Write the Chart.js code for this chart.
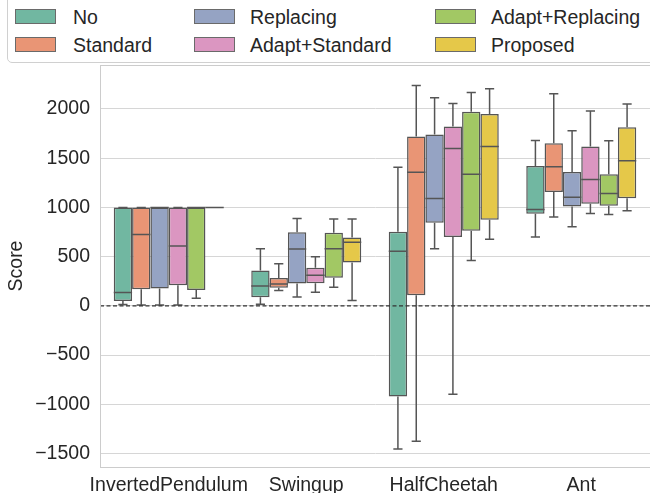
<!DOCTYPE html>
<html>
<head>
<meta charset="utf-8">
<script src="https://cdn.jsdelivr.net/npm/chart.js@4.4.1/dist/chart.umd.min.js"></script>
<style>
  html, body { margin: 0; padding: 0; background: #fff; overflow: hidden; }
  #wrap { position: relative; width: 650px; height: 493px; }
  #legend {
    position: absolute; left: 7px; top: -12px; width: 700px; height: 73px;
    border: 1px solid #d0d0d0; border-radius: 5px; background: #fff;
    font-family: "Liberation Sans", Arial, sans-serif; font-size: 19.5px; color: #262626;
  }
  .lg-item { position: absolute; left: 0; height: 24px; line-height: 24px; white-space: nowrap; }
  .lg-box { position: absolute; top: 4px; width: 39px; height: 13px; border: 1px solid #6a6a6a; }
  .lg-text { position: absolute; }
</style>
</head>
<body>
<div id="wrap">
  <canvas id="chart" width="650" height="493"></canvas>
  <div id="legend"></div>
</div>
<script>
// Box plot stats per environment: [whisker low, q1, median, q3, whisker high]
const envs = ['InvertedPendulum', 'Swingup', 'HalfCheetah', 'Ant'];
const methods = ['No', 'Standard', 'Replacing', 'Adapt+Standard', 'Adapt+Replacing', 'Proposed'];
const colors = ['#71b7a1', '#e99575', '#95a3c3', '#db96c1', '#a2c864', '#e5c849'];

const noStats          = [[15, 50, 135, 1000, 1000], [17, 88, 203, 360, 580], [-1453, -922, 556, 754, 1407], [700, 936, 980, 1421, 1680]];
const standardStats    = [[10, 169, 724, 1000, 1000], [155, 185, 223, 284, 429], [-1375, 108, 1357, 1721, 2239], [902, 1158, 1414, 1653, 2155]];
const replacingStats   = [[10, 176, 1000, 1000, 1000], [91, 226, 578, 747, 888], [579, 845, 1091, 1741, 2114], [805, 1010, 1104, 1360, 1778]];
const adaptStdStats    = [[10, 210, 609, 1000, 1000], [138, 230, 311, 388, 500], [-899, 700, 1599, 1822, 2057], [939, 1037, 1283, 1620, 1980]];
const adaptReplStats   = [[78, 162, 1000, 1000, 1000], [189, 286, 579, 744, 882], [461, 764, 1337, 1973, 2168], [929, 1017, 1141, 1337, 1677]];
const proposedStats    = [[1000, 1000, 1000, 1000, 1000], [54, 441, 646, 694, 882], [677, 875, 1620, 1950, 2205], [966, 1094, 1475, 1815, 2051]];

const allStats = [noStats, standardStats, replacingStats, adaptStdStats, adaptReplStats, proposedStats];
const yTicks = [-1500, -1000, -500, 0, 500, 1000, 1500, 2000];
const yMin = -1637, yMax = 2447;

const EDGE = '#555555';
const FONT = '"Liberation Sans", Arial, sans-serif';

// whiskers, caps, medians, zero line and frame, all through the chart scales
const boxPlugin = {
  id: 'boxExtras',
  afterDatasetsDraw(chart) {
    const { ctx, chartArea, scales: { y } } = chart;
    ctx.save();
    ctx.strokeStyle = EDGE;
    ctx.lineWidth = 1.5;
    chart.data.datasets.forEach((ds, di) => {
      const meta = chart.getDatasetMeta(di);
      meta.data.forEach((bar, i) => {
        const [lo, q1, med, q3, hi] = allStats[di][i];
        const half = bar.width / 2, cap = bar.width / 4;
        const x = bar.x;
        ctx.beginPath();
        ctx.moveTo(x, y.getPixelForValue(q1)); ctx.lineTo(x, y.getPixelForValue(lo));
        ctx.moveTo(x - cap, y.getPixelForValue(lo)); ctx.lineTo(x + cap, y.getPixelForValue(lo));
        ctx.moveTo(x, y.getPixelForValue(q3)); ctx.lineTo(x, y.getPixelForValue(hi));
        ctx.moveTo(x - cap, y.getPixelForValue(hi)); ctx.lineTo(x + cap, y.getPixelForValue(hi));
        ctx.moveTo(x - half, y.getPixelForValue(med)); ctx.lineTo(x + half, y.getPixelForValue(med));
        ctx.stroke();
      });
    });
    // dashed zero line
    ctx.strokeStyle = '#333333';
    ctx.lineWidth = 1.3;
    ctx.setLineDash([4, 2.5]);
    ctx.beginPath();
    ctx.moveTo(chartArea.left, y.getPixelForValue(0));
    ctx.lineTo(chartArea.right, y.getPixelForValue(0));
    ctx.stroke();
    ctx.setLineDash([]);
    // light frame round the plot
    ctx.strokeStyle = '#cccccc';
    ctx.lineWidth = 1;
    ctx.strokeRect(chartArea.left + 0.5, chartArea.top + 0.5, chartArea.right - chartArea.left, chartArea.bottom - chartArea.top);
    ctx.restore();
  },
};

const chart = new Chart(document.getElementById('chart'), {
  type: 'bar',
  data: {
    labels: envs,
    datasets: methods.map((m, i) => ({
      label: m,
      data: allStats[i].map(s => [s[1], s[3]]),
      backgroundColor: colors[i],
      borderColor: EDGE,
      borderWidth: 1.5,
      borderSkipped: false,
      categoryPercentage: 0.8,
      barPercentage: 1.0,
    })),
  },
  options: {
    responsive: false,
    animation: false,
    layout: { padding: { top: 65, left: 0, right: 0, bottom: 0 } },
    plugins: { legend: { display: false }, tooltip: { enabled: false } },
    scales: {
      x: {
        grid: { display: false, drawTicks: false },
        border: { display: true, color: '#cccccc' },
        ticks: {
          color: '#262626', padding: 7, font: { family: FONT, size: 19.5 },
          maxRotation: 0, minRotation: 0, autoSkip: false,
        },
        afterFit: s => { s.height = 26; },
      },
      y: {
        min: yMin, max: yMax,
        grid: { color: '#d6d6d6', lineWidth: 1, drawTicks: false },
        border: { display: true, color: '#cccccc' },
        ticks: {
          color: '#262626', padding: 10, font: { family: FONT, size: 19.5 },
          callback: v => (v < 0 ? '\u2212' + Math.abs(v) : String(v)),
        },
        afterBuildTicks: s => { s.ticks = yTicks.map(v => ({ value: v })); },
        title: { display: true, text: 'Score', color: '#262626', font: { family: FONT, size: 19.5 }, padding: { top: 5, bottom: 0 } },
        afterFit: s => { s.width = 100; },
      },
    },
  },
  plugins: [boxPlugin],
});

// legend in three columns, two rows (column-major order like the original)
const colX = [[7, 65], [186, 242], [427, 483]];
const rowY = [16, 44];
const legend = document.getElementById('legend');
chart.data.datasets.forEach((ds, i) => {
  const col = Math.floor(i / 2), row = i % 2;
  const item = document.createElement('div');
  item.className = 'lg-item';
  item.style.top = rowY[row] + 'px';
  item.innerHTML =
    `<div class="lg-box" style="left:${colX[col][0]}px;background:${ds.backgroundColor}"></div>` +
    `<div class="lg-text" style="left:${colX[col][1]}px">${ds.label}</div>`;
  legend.appendChild(item);
});
</script>
</body>
</html>
